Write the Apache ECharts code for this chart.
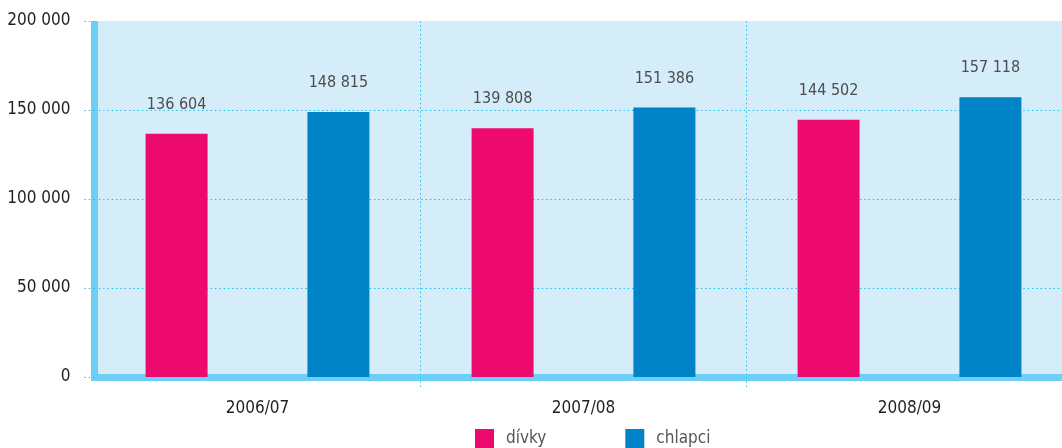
<!DOCTYPE html>
<html>
<head>
<meta charset="utf-8">
<script src="https://cdn.jsdelivr.net/npm/echarts@6/dist/echarts.min.js"></script>
<style>
html,body{margin:0;padding:0;background:#fff;}
#chart{width:1062px;height:448px;}
</style>
</head>
<body>
<div id="chart"></div>
<script>
const categories = ['2006/07', '2007/08', '2008/09'];
const divky = [136604, 139808, 144502];
const chlapci = [148815, 151386, 157118];
const seriesNames = ['dívky', 'chlapci'];

const FONT = "'DejaVu Sans Condensed', 'Liberation Sans Narrow', sans-serif";
const fmt = v => String(v).replace(/\B(?=(\d{3})+(?!\d))/g, ' ');
const dotted = '#1EC0F0';
const dotType = [1.5, 2.8];

const chart = echarts.init(document.getElementById('chart'), null, {renderer: 'canvas'});
const labelCfg = {
  show: true, position: 'top', distance: 21,
  fontFamily: FONT, fontSize: 16, color: '#4D4D4D',
  formatter: p => fmt(p.value)
};
chart.setOption({
  animation: false,
  grid: {left: 94.5, right: -10.5, top: 21, bottom: 71, outerBoundsMode: 'none', containLabel: false,
         show: true, backgroundColor: '#D5ECF9', borderWidth: 0},
  legend: {
    data: seriesNames, left: 470, top: 424, itemWidth: 19, itemHeight: 19, itemGap: 79,
    icon: 'rect',
    textStyle: {fontFamily: FONT, fontSize: 17, color: '#555555', padding: [0, 0, 0, 7]}
  },
  xAxis: {
    type: 'category', data: categories, offset: 3.5,
    axisLine: {show: true, lineStyle: {color: '#6DCFF6', width: 7, cap: 'square'}},
    axisTick: {show: true, length: 10, interval: i => i !== 0, lineStyle: {color: dotted, type: dotType, width: 1}},
    splitLine: {show: true, interval: i => i !== 0, lineStyle: {color: dotted, type: dotType, width: 1}},
    axisLabel: {fontFamily: FONT, fontSize: 17, color: '#231F20', margin: 20}
  },
  yAxis: {
    type: 'value', min: 0, max: 200000, interval: 50000,
    axisLine: {show: true, lineStyle: {color: '#6DCFF6', width: 7, cap: 'butt'}},
    axisTick: {show: true, length: 11, lineStyle: {color: dotted, type: dotType, width: 1}},
    splitLine: {show: true, lineStyle: {color: ['transparent', dotted, dotted, dotted, 'transparent'], type: dotType, width: 1}},
    axisLabel: {fontFamily: FONT, fontSize: 17, color: '#231F20', margin: 24, formatter: v => fmt(v)}
  },
  series: [
    {name: seriesNames[0], type: 'bar', data: divky, barWidth: 62, barGap: '161%', itemStyle: {color: '#EC0A6E'}, label: labelCfg},
    {name: seriesNames[1], type: 'bar', data: chlapci, barWidth: 62, itemStyle: {color: '#0082C6'}, label: labelCfg}
  ]
});
</script>
</body>
</html>
